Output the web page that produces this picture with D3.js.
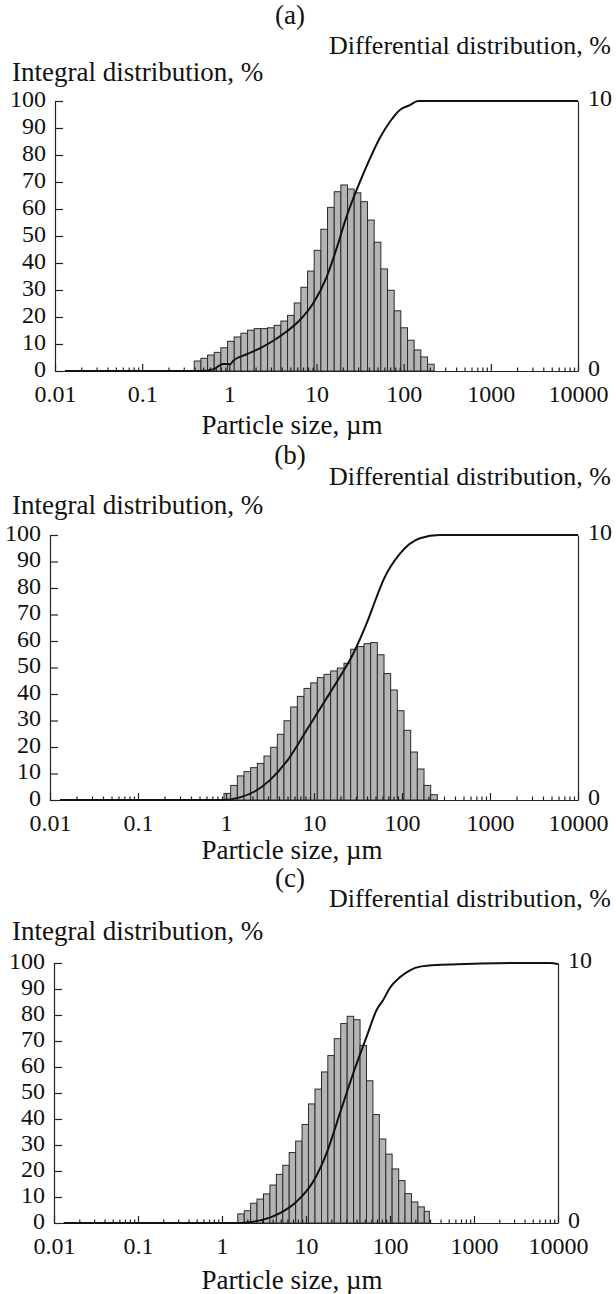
<!DOCTYPE html>
<html><head><meta charset="utf-8">
<script src="https://cdn.jsdelivr.net/npm/d3@7"></script>
<style>
html,body{margin:0;padding:0;background:#fff;}
svg text{font-family:"Liberation Serif","Times New Roman",serif;fill:#111;}
</style></head>
<body><svg id="c" width="616" height="1294"></svg>
<script>
// ---------- DATA ----------
const panelTitles = ["(a)", "(b)", "(c)"];
const xTickValues = [0.01, 0.1, 1, 10, 100, 1000, 10000];
const xTickLabels = ["0.01", "0.1", "1", "10", "100", "1000", "10000"];
const leftTickValues = [0, 10, 20, 30, 40, 50, 60, 70, 80, 90, 100];
const rightTickValues = [0, 10];
const xTitle = "Particle size, µm";
const leftTitle = "Integral distribution, %";
const rightTitle = "Differential distribution, %";

// panel (a): bin edges (µm) and differential distribution (%)
const binEdgesA = [0.396,0.472,0.563,0.671,0.800,0.954,1.138,1.357,1.618,1.930,2.301,2.745,3.273,3.903,4.654,5.551,6.619,7.894,9.410,11.22,13.38,15.96,19.03,22.69,27.06,32.27,38.48,45.89,54.72,65.26,77.81,92.79,110.7,131.9,157.4,187.7,223.8];
const diffA = [0.37,0.47,0.59,0.69,0.86,1.10,1.26,1.40,1.51,1.57,1.57,1.60,1.69,1.85,2.06,2.52,3.10,3.70,4.47,5.25,6.06,6.64,6.89,6.74,6.60,6.27,5.59,4.77,3.78,2.99,2.23,1.60,1.14,0.78,0.52,0.25];
const sizeA = [0.013,0.30,0.46,0.65,0.85,1.02,1.11,1.58,2.24,3.19,4.54,6.45,9.17,13.1,17.0,22.1,28.8,35.9,53.3,69.5,90.4,118,146,10000];
const integralA = [0,0,0,0.6,2.6,2.5,3.8,6.2,8.4,11.2,14.6,18.9,25.1,34.9,45.4,57.2,67.0,74.4,86.3,92.3,96.7,98.5,100,100];

// panel (b)
const binEdgesB = [0.949,1.130,1.345,1.602,1.907,2.270,2.703,3.218,3.832,4.561,5.431,6.467,7.698,9.167,10.91,12.99,15.47,18.42,21.93,26.12,31.09,37.02,44.06,52.46,62.47,74.35,88.53,105.4,125.5,149.4,177.9,211.8,252.1];
const diffB = [0.25,0.55,0.91,1.07,1.22,1.38,1.66,1.99,2.48,2.99,3.51,3.91,4.21,4.42,4.62,4.74,4.87,4.98,5.16,5.69,5.79,5.90,5.94,5.48,4.77,4.15,3.37,2.63,1.81,1.17,0.55,0.20];
const sizeB = [0.013,0.50,0.90,1.44,2.14,3.16,5.34,8.26,12.8,19.7,28.0,39.7,51.6,61.4,94.9,160,270,10000];
const integralB = [0,0,0,1.0,3.3,7.5,16.3,26.4,36.5,46.5,55.3,66.7,76.7,83.0,93.0,98.8,100,100];

// panel (c)
const binEdgesC = [1.54,1.84,2.19,2.61,3.12,3.72,4.44,5.29,6.31,7.53,8.98,10.7,12.8,15.3,18.2,21.7,25.9,30.9,36.9,44.0,52.5,62.6,74.7,89.1,106,127,151,180,215,256,294];
const diffC = [0.35,0.47,0.76,0.92,1.12,1.46,1.87,2.22,2.71,3.15,3.79,4.58,5.15,5.81,6.44,7.09,7.67,7.95,7.82,6.83,5.47,4.17,3.23,2.65,2.08,1.63,1.13,0.81,0.62,0.45];
const sizeC = [0.013,1.0,1.5,1.97,3.10,4.90,7.74,12.2,17.6,25.4,36.6,52.8,69.5,83.3,100,131,173,228,400,1000,3000,8000,10000];
const integralC = [0,0,0,0.2,1.3,3.8,8.3,16.0,26.9,42.3,57.7,71.8,82.0,85.9,90.5,94.5,97.2,98.6,99.3,99.7,100,100,99.6];

// ---------- LAYOUT (positions only) ----------
const panels = [
  {title:panelTitles[0], edges:binEdgesA, diff:diffA, size:sizeA, integ:integralA,
   left:55, right:578, top:101, bottom:371, titleY:15, diffY:45, intY:72, xTitleY:425},
  {title:panelTitles[1], edges:binEdgesB, diff:diffB, size:sizeB, integ:integralB,
   left:50, right:578, top:535, bottom:800, titleY:455, diffY:476, intY:505, xTitleY:850},
  {title:panelTitles[2], edges:binEdgesC, diff:diffC, size:sizeC, integ:integralC,
   left:54, right:558, top:963, bottom:1223, titleY:878, diffY:898, intY:931, xTitleY:1280}
];

const svg = d3.select("#c");
const FS = 24;   // tick labels
const FT = 27;   // titles
const FD = 26;   // right-axis title

panels.forEach(p => {
  const g = svg.append("g");
  const x = d3.scaleLog().domain([0.01, 10000]).range([p.left, p.right]);
  const yL = d3.scaleLinear().domain([0, 100]).range([p.bottom, p.top]);
  const yR = d3.scaleLinear().domain([0, 10]).range([p.bottom, p.top]);

  // bars
  const bins = p.diff.map((v, i) => ({x0: p.edges[i], x1: p.edges[i + 1], v}));
  g.append("g").selectAll("rect").data(bins).join("rect")
    .attr("x", d => x(d.x0)).attr("width", d => x(d.x1) - x(d.x0))
    .attr("y", d => yR(d.v)).attr("height", d => p.bottom - yR(d.v))
    .attr("fill", "#b4b4b4").attr("stroke", "#2b2b2b").attr("stroke-width", 1);

  // x axis: minor ticks
  const minors = [];
  for (let e = -2; e < 4; e++) for (let k = 2; k <= 9; k++) minors.push(k * Math.pow(10, e));
  const xMinor = g.append("g").attr("transform", `translate(0,${p.bottom})`)
    .call(d3.axisBottom(x).tickValues(minors).tickSize(-3.5).tickSizeOuter(0).tickFormat(""));
  xMinor.select(".domain").remove();
  xMinor.selectAll("line").attr("stroke", "#222").attr("stroke-width", 1.2);

  const xMajor = g.append("g").attr("transform", `translate(0,${p.bottom})`)
    .call(d3.axisBottom(x).tickValues(xTickValues).tickSize(-7).tickSizeOuter(0).tickPadding(14)
      .tickFormat((d, i) => xTickLabels[i]));
  xMajor.select(".domain").attr("stroke", "#222").attr("stroke-width", 1.2);
  xMajor.selectAll("line").attr("stroke", "#222").attr("stroke-width", 1.2);
  xMajor.selectAll("text").attr("font-size", FS).attr("fill", "#111");

  // left axis
  const yAx = g.append("g").attr("transform", `translate(${p.left},0)`)
    .call(d3.axisLeft(yL).tickValues(leftTickValues).tickSize(-8).tickSizeOuter(0).tickPadding(9));
  yAx.select(".domain").attr("stroke", "#222").attr("stroke-width", 1.2);
  yAx.selectAll("line").attr("stroke", "#222").attr("stroke-width", 1.2);
  yAx.selectAll("text").attr("font-size", FS).attr("fill", "#111").attr("dy", "0.22em");

  // right axis
  const rAx = g.append("g").attr("transform", `translate(${p.right},0)`)
    .call(d3.axisRight(yR).tickValues(rightTickValues).tickSize(0).tickSizeOuter(0).tickPadding(10));
  rAx.select(".domain").attr("stroke", "#222").attr("stroke-width", 1.2);
  rAx.selectAll("text").attr("font-size", FS).attr("fill", "#111").attr("dy", "0.2em");

  // integral curve
  const pts = p.size.map((s, i) => [s, p.integ[i]]);
  g.append("path").datum(pts)
    .attr("d", d3.line().x(d => x(d[0])).y(d => yL(d[1])).curve(d3.curveMonotoneX))
    .attr("fill", "none").attr("stroke", "#111").attr("stroke-width", 2);

  // texts
  g.append("text").attr("x", 290).attr("y", p.titleY).attr("text-anchor", "middle")
    .attr("dominant-baseline", "central").attr("font-size", FT).text(p.title);
  g.append("text").attr("x", 329).attr("y", p.diffY)
    .attr("dominant-baseline", "central").attr("font-size", FD).text(rightTitle);
  g.append("text").attr("x", 12).attr("y", p.intY)
    .attr("dominant-baseline", "central").attr("font-size", FT).text(leftTitle);
  g.append("text").attr("x", 292).attr("y", p.xTitleY).attr("text-anchor", "middle")
    .attr("dominant-baseline", "central").attr("font-size", FT).text(xTitle);
});
</script></body></html>
